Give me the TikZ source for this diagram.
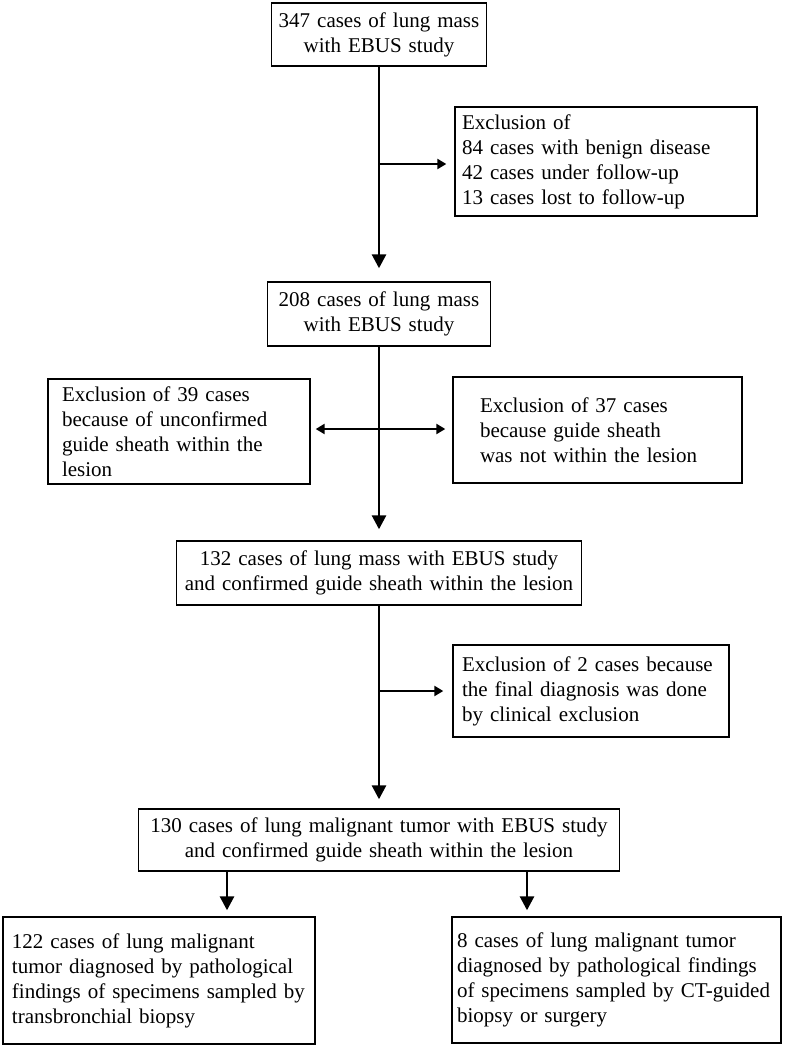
\documentclass[tikz,border=0pt]{standalone}
\usepackage{fontspec}
\setmainfont{Liberation Serif}
\usetikzlibrary{arrows.meta}

\begin{document}
\begin{tikzpicture}[
    x=1pt, y=-1pt,
    box/.style={draw, line width=1.4pt, inner ysep=0pt,
      font=\fontsize{21}{25}\selectfont},
    midbox/.style={box, align=center, inner xsep=6pt},
    leftbox/.style={box, align=left},
    down/.style={line width=2.8pt, -{Triangle[length=14pt,width=14pt]}},
    side/.style={line width=2.8pt, -{Triangle[length=9pt,width=10pt]}}
]
  \useasboundingbox (0,0) rectangle (787,1046);
  % main column
  \node[midbox, text width=203pt, minimum height=63pt] (n347) at (379,34.5)
    {347 cases of lung mass\\with EBUS study};
  \node[midbox, text width=211pt, minimum height=64pt] (n208) at (379,314)
    {208 cases of lung mass\\with EBUS study};
  \node[midbox, text width=393pt, minimum height=64pt] (n132) at (379,573)
    {132 cases of lung mass with EBUS study\\and confirmed guide sheath within the lesion};
  \node[midbox, text width=469pt, minimum height=62pt] (n130) at (379,840)
    {130 cases of lung malignant tumor with EBUS study\\and confirmed guide sheath within the lesion};
  % exclusions
  \node[leftbox, inner xsep=7pt, text width=288pt, minimum height=109pt] (ex1) at (606,161.5)
    {Exclusion of\\84 cases with benign disease\\42 cases under follow-up\\13 cases lost to follow-up};
  \node[leftbox, inner xsep=14pt, text width=234pt, minimum height=105pt] (exL) at (179,431.5)
    {Exclusion of 39 cases\\because of unconfirmed\\guide sheath within the\\lesion};
  \node[leftbox, inner xsep=27pt, text width=235pt, minimum height=106pt] (exR) at (597.5,430)
    {Exclusion of 37 cases\\because guide sheath\\was not within the lesion};
  \node[leftbox, inner xsep=9pt, text width=258pt, minimum height=92pt] (ex2) at (591,691)
    {Exclusion of 2 cases because\\the final diagnosis was done\\by clinical exclusion};
  % final groups
  \node[leftbox, inner xsep=9pt, text width=294pt, minimum height=127pt] (fin1) at (159,980.5)
    {122 cases of lung malignant\\tumor diagnosed by pathological\\findings of specimens sampled by\\transbronchial biopsy};
  \node[leftbox, inner xsep=5pt, text width=319pt, minimum height=126pt] (fin2) at (616.5,980)
    {8 cases of lung malignant tumor\\diagnosed by pathological findings\\of specimens sampled by CT-guided\\biopsy or surgery};

  \coordinate (j1) at (379,164);
  \coordinate (j2) at (379,429);
  \coordinate (j3) at (379,691);

  \draw[down, shorten >=13pt] (n347) -- (n208);
  \draw[down, shorten >=11pt] (n208) -- (n132);
  \draw[down, shorten >=9pt] (n132) -- (n130);
  \draw[side, shorten >=8pt] (j1) -- (j1 -| ex1.west);
  \draw[side, shorten >=5pt] (j2) -- (j2 -| exL.east);
  \draw[side, shorten >=7pt] (j2) -- (j2 -| exR.west);
  \draw[side, shorten >=9pt] (j3) -- (j3 -| ex2.west);
  \draw[down, shorten >=6pt] ([xshift=-152pt]n130.south) -- ([xshift=-152pt]n130.south |- fin1.north);
  \draw[down, shorten >=6pt] ([xshift=148pt]n130.south) -- ([xshift=148pt]n130.south |- fin2.north);
\end{tikzpicture}
\end{document}
